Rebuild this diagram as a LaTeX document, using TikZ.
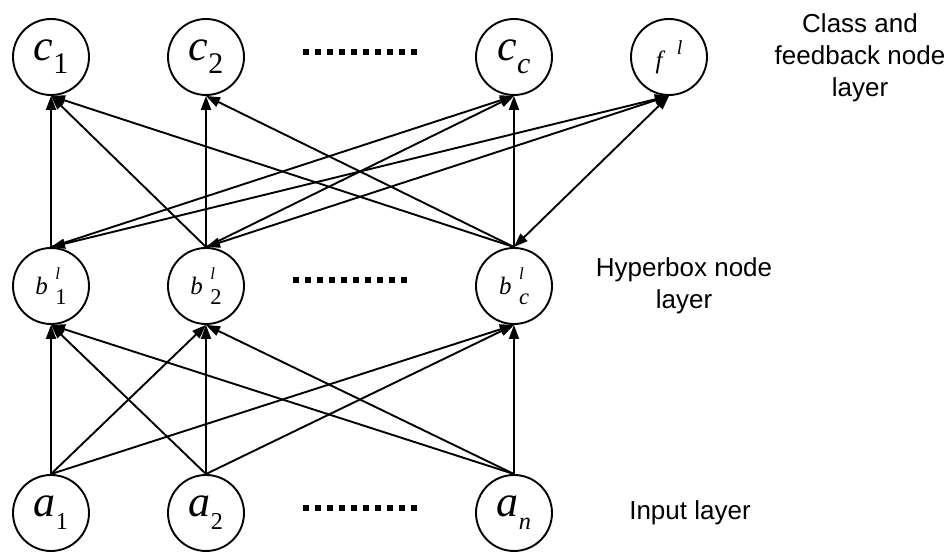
\documentclass[tikz,border=0pt]{standalone}
\usepackage{fontspec}
\usepackage{tikz}
\usetikzlibrary{arrows.meta}
\setmainfont{Liberation Serif}
\newfontfamily\layerfont{Liberation Sans}

% italic letter with index below, above, or both
\newcommand{\sublab}[3][.68]{\textit{#2}\raisebox{-.3em}{\scalebox{#1}{#3}}}
\newcommand{\suplab}[2]{\textit{#1}\hspace{.45em}\raisebox{.55em}{\scalebox{.8}{\textit{#2}}}}
\newcommand{\bothlab}[3]{\textit{#1}\hspace{.3em}\rlap{\raisebox{.62em}{\scalebox{.68}{\textit{#3}}}}\raisebox{-.4em}{\scalebox{.9}{#2}}}

\begin{document}
\begin{tikzpicture}[
            x = 1pt, y = 1pt, % one unit per pixel
            > = {Triangle[length=14pt,width=10pt]}, % arrow head style
            line width = 1.9pt, % line style
            neuron/.style = {shape=circle, draw=black, minimum size=76pt, inner sep=0pt},
            bigmath/.style = {font=\fontsize{44}{48}\selectfont},
            smallmath/.style = {font=\fontsize{25}{28}\selectfont},
            layertext/.style = {align=center, font=\layerfont\fontsize{26}{32}\selectfont},
            dotrow/.style = {line width=6pt, dash pattern=on 6pt off 6pt}
        ]
\useasboundingbox (0,0) rectangle (949,553);

% class and feedback node layer
\node[neuron,bigmath] (c1) at (51,496) {\sublab{c}{1}};
\node[neuron,bigmath] (c2) at (206,496) {\sublab{c}{2}};
\node[neuron,bigmath] (cc) at (514,496) {\sublab{c}{\textit{c}}};
\node[neuron,smallmath] (f) at (669,496) {\suplab{f}{l}};

% hyperbox node layer
\node[neuron,smallmath] (b1) at (51,267) {\bothlab{b}{1}{l}};
\node[neuron,smallmath] (b2) at (206,267) {\bothlab{b}{2}{l}};
\node[neuron,smallmath] (bc) at (514,267) {\bothlab{b}{\textit{c}}{l}};

% input layer
\node[neuron,bigmath] (a1) at (51,40) {\sublab[.55]{a}{1}};
\node[neuron,bigmath] (a2) at (206,40) {\sublab[.55]{a}{2}};
\node[neuron,bigmath] (an) at (514,40) {\sublab[.55]{a}{\textit{n}}};

\draw[dotrow] (303,501) -- (417,501);
\draw[dotrow] (293,273) -- (407,273);
\draw[dotrow] (303,45) -- (417,45);

\node[layertext] (classtext) at (860,495) {Class and\\feedback node\\layer};
\node[layertext] (boxtext) at (684,267) {Hyperbox node\\layer};
\node[layertext] (inputtext) at (690,40) {Input layer};

 \path [->] (a1.north) edge (b1.south);
 \path [->] (a1.north) edge (b2.south);
 \path [->] (a1.north) edge (bc.south);
 \path [->] (a2.north) edge (b1.south);
 \path [->] (a2.north) edge (b2.south);
 \path [->] (a2.north) edge (bc.south);
 \path [->] (an.north) edge (b1.south);
 \path [->] (an.north) edge (b2.south);
 \path [->] (an.north) edge (bc.south);

 \path [->] (b1.north) edge (c1.south);
 \path [->] (b1.north) edge (cc.south);
 \path [<->] (b1.north) edge (f.south);
 \path [->] (b2.north) edge (c1.south);
 \path [->] (b2.north) edge (c2.south);
 \path [->] (b2.north) edge (cc.south);
 \path [<->] (b2.north) edge (f.south);
 \path [->] (bc.north) edge (c1.south);
 \path [->] (bc.north) edge (c2.south);
 \path [->] (bc.north) edge (cc.south);
 \path [<->] (bc.north) edge (f.south);
\end{tikzpicture}
\end{document}
